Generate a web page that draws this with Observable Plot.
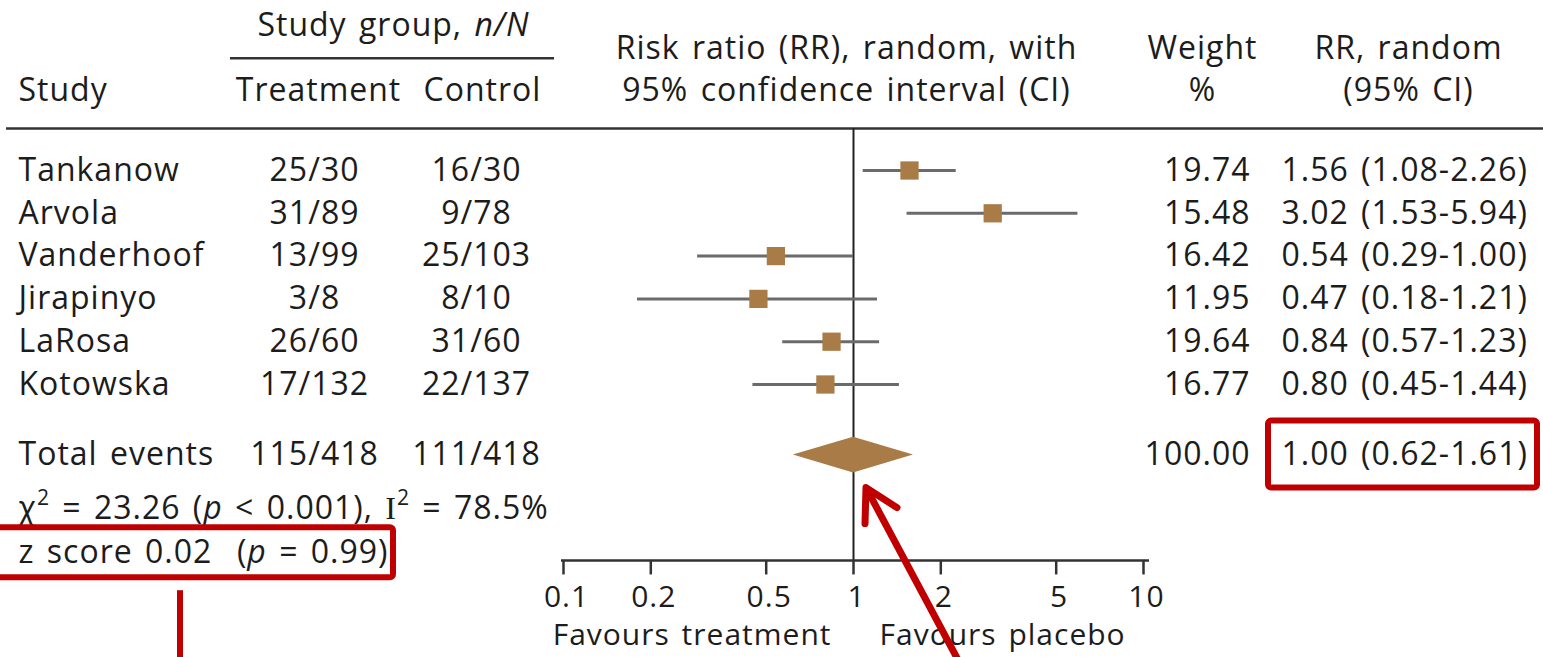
<!DOCTYPE html>
<html><head><meta charset="utf-8">
<script src="https://cdn.jsdelivr.net/npm/d3@7"></script>
<script src="https://cdn.jsdelivr.net/npm/@observablehq/plot@0.6"></script>
<style>
body{margin:0;background:#fff;}
#chart{position:relative;width:1543px;height:657px;overflow:hidden}
</style></head><body><div id="chart"></div>
<script>
// ---- data ----
const studies = ["Tankanow","Arvola","Vanderhoof","Jirapinyo","LaRosa","Kotowska"];
const treatment = ["25/30","31/89","13/99","3/8","26/60","17/132"];
const control = ["16/30","9/78","25/103","8/10","31/60","22/137"];
const weights = [19.74,15.48,16.42,11.95,19.64,16.77];
const rr = [1.56,3.02,0.54,0.47,0.84,0.80];
const ciLow = [1.08,1.53,0.29,0.18,0.57,0.45];
const ciHigh = [2.26,5.94,1.00,1.21,1.23,1.44];
const totalLabel = "Total events";
const totalTreatment = "115/418";
const totalControl = "111/418";
const totalWeight = 100.00;
const pooledRR = 1.00, pooledLow = 0.62, pooledHigh = 1.61;
const heterogeneity = "χ{sup:2} = 23.26 ({i:p} < 0.001), {serif:I}{sup:2} = 78.5%";
const zScore = "z score 0.02  ({i:p} = 0.99)";
const axisTicks = [0.1,0.2,0.5,1,2,5,10];
const favours = ["Favours treatment","Favours placebo"];
const headGroup = "Study group, {i:n/N}";
const headCols = ["Study","Treatment","Control"];
const headForest = ["Risk ratio (RR), random, with","95% confidence interval (CI)"];
const headWeight = ["Weight","%"];
const headRR = ["RR, random","(95% CI)"];

// ---- layout ----
const W = 1543, H = 657;
const rowStep = 42.8, firstRowPx = 170;
const totalRow = 6.65, hetRow = 7.9, zRow = 8.93;
const groupRow = -3.39, groupRule = -2.62, head1 = -2.85, head2 = -1.87, headRule = -0.98;
const axisRow = 9.11, tickLabRow = 9.98, favRow = 10.87;
const FONT = "Open Sans";
const FS = 32;
const ink = "#1c1c1c";
const brown = "#A97C47";
const red = "#C00000";

const fmt2 = v => v.toFixed(2);
const rows = studies.map((s, i) => ({
  i, study: s, t: treatment[i], c: control[i], w: weights[i],
  rr: rr[i], lo: ciLow[i], hi: ciHigh[i],
  rrText: `${fmt2(rr[i])} (${fmt2(ciLow[i])}-${fmt2(ciHigh[i])})`
}));
const total = [{
  i: totalRow, study: totalLabel, t: totalTreatment, c: totalControl, w: totalWeight,
  rrText: `${fmt2(pooledRR)} (${fmt2(pooledLow)}-${fmt2(pooledHigh)})`
}];
const tableRows = rows.concat(total);
const diamond = [
  {x: pooledLow, y1: totalRow, y2: totalRow},
  {x: pooledRR, y1: totalRow - 0.42, y2: totalRow + 0.42},
  {x: pooledHigh, y1: totalRow, y2: totalRow}
];

const txt = (data, o) => Plot.text(data, {fontSize: FS, fill: ink, ...o});

function annotations(index, scales, values, dims) {
  const g = d3.create("svg:g").attr("fill", "none").attr("stroke", red)
    .attr("stroke-width", 6).attr("stroke-linejoin", "round");
  const yT = scales.y(totalRow), yZ = scales.y(zRow);
  g.append("rect").attr("x", dims.width - 275).attr("y", yT - 34)
    .attr("width", 269).attr("height", 67).attr("rx", 3);
  g.append("rect").attr("x", -4).attr("y", yZ - 25)
    .attr("width", 397).attr("height", 50).attr("rx", 3);
  g.append("line").attr("x1", 180).attr("x2", 180).attr("y1", yZ + 38).attr("y2", dims.height + 5);
  const tx = scales.x(pooledRR) + 13, ty = yT + 33;
  g.append("line").attr("x1", tx).attr("y1", ty).attr("x2", tx + 0.47 * 200).attr("y2", ty + 0.88 * 200)
    .attr("stroke-width", 7);
  g.append("path").attr("d", `M${tx - 1},${ty + 36}L${tx},${ty}L${tx + 31},${ty + 20}`)
    .attr("stroke-width", 7).attr("stroke-linecap", "round");
  return g.node();
}

const plot = Plot.plot({
  width: W, height: H,
  marginLeft: 0, marginRight: 0, marginTop: 0, marginBottom: 0,
  style: {fontFamily: FONT, background: "#fff", overflow: "visible", letterSpacing: "1px", wordSpacing: "3px"},
  x: {type: "log", domain: [axisTicks[0], axisTicks[axisTicks.length - 1]], range: [563, 1143], axis: null},
  y: {domain: [-firstRowPx / rowStep, (H - firstRowPx) / rowStep], range: [0, H], axis: null},
  marks: [
    // header
    txt([headGroup], {y: groupRow, frameAnchor: "left", dx: 393, textAnchor: "middle"}),
    Plot.ruleY([groupRule], {stroke: "#333", strokeWidth: 2.5, insetLeft: 230, insetRight: W - 554}),
    txt([headCols[0]], {y: head2, frameAnchor: "left", dx: 18, textAnchor: "start"}),
    txt([headCols[1]], {y: head2, frameAnchor: "left", dx: 318, textAnchor: "middle"}),
    txt([headCols[2]], {y: head2, frameAnchor: "left", dx: 482, textAnchor: "middle"}),
    txt(headForest, {x: () => pooledRR, y: (d, i) => i === 0 ? head1 : head2, dx: -7, textAnchor: "middle"}),
    txt(headWeight, {y: (d, i) => i === 0 ? head1 : head2, frameAnchor: "left", dx: 1202, textAnchor: "middle"}),
    txt(headRR, {y: (d, i) => i === 0 ? head1 : head2, frameAnchor: "left", dx: 1408, textAnchor: "middle"}),
    Plot.ruleY([headRule], {stroke: "#333", strokeWidth: 2.5, insetLeft: 6}),
    // null line
    Plot.ruleX([1], {y1: headRule, y2: axisRow, stroke: "#222", strokeWidth: 2}),
    // CI and squares
    Plot.ruleY(rows, {y: "i", x1: "lo", x2: "hi", stroke: "#6b6b6b", strokeWidth: 3}),
    Plot.dot(rows, {x: "rr", y: "i", symbol: "square", r: 10.3, fill: brown}),
    Plot.areaY(diamond, {x: "x", y1: "y1", y2: "y2", fill: brown}),
    // table
    txt(tableRows, {y: "i", text: "study", frameAnchor: "left", dx: 18, textAnchor: "start"}),
    txt(tableRows, {y: "i", text: "t", frameAnchor: "left", dx: 314, textAnchor: "middle"}),
    txt(tableRows, {y: "i", text: "c", frameAnchor: "left", dx: 476, textAnchor: "middle"}),
    txt(tableRows, {y: "i", text: d => fmt2(d.w), frameAnchor: "left", dx: 1250, textAnchor: "end"}),
    txt(tableRows, {y: "i", text: "rrText", frameAnchor: "left", dx: 1281, textAnchor: "start"}),
    // statistics
    txt([heterogeneity], {y: hetRow, frameAnchor: "left", dx: 18, textAnchor: "start"}),
    txt([zScore], {y: zRow, frameAnchor: "left", dx: 18, textAnchor: "start"}),
    // axis
    Plot.ruleY([axisRow], {x1: axisTicks[0], x2: axisTicks[axisTicks.length - 1], insetLeft: -2, insetRight: -6, stroke: "#333", strokeWidth: 2.5}),
    Plot.ruleX(axisTicks, {x: d => d, y1: axisRow, y2: axisRow + 0.34, stroke: "#333", strokeWidth: 2.5}),
    txt(axisTicks, {x: d => d, y: tickLabRow, text: d => String(d), dx: 3, fontSize: 30}),
    txt([favours[0]], {x: () => pooledRR, y: favRow, dx: -22, textAnchor: "end", fontSize: 30}),
    txt([favours[1]], {x: () => pooledRR, y: favRow, dx: 26, textAnchor: "start", fontSize: 30}),
    // annotations
    annotations
  ]
});

// rich text: italics, superscripts, serif letters
d3.select(plot).selectAll("text").each(function () {
  const t = this.textContent;
  if (!t.includes("{")) return;
  const el = d3.select(this).style("white-space", "pre");
  el.text(null);
  const re = /\{(\w+):([^}]*)\}/g;
  let last = 0, m;
  while ((m = re.exec(t))) {
    if (m.index > last) el.append("tspan").text(t.slice(last, m.index));
    const sp = el.append("tspan").text(m[2]);
    if (m[1] === "i") sp.attr("font-style", "italic");
    if (m[1] === "sup") sp.attr("baseline-shift", "super").attr("font-size", "66%");
    if (m[1] === "serif") sp.attr("font-family", "Liberation Serif");
    last = re.lastIndex;
  }
  if (last < t.length) el.append("tspan").text(t.slice(last));
});

document.getElementById("chart").appendChild(plot);
</script>
</body></html>
